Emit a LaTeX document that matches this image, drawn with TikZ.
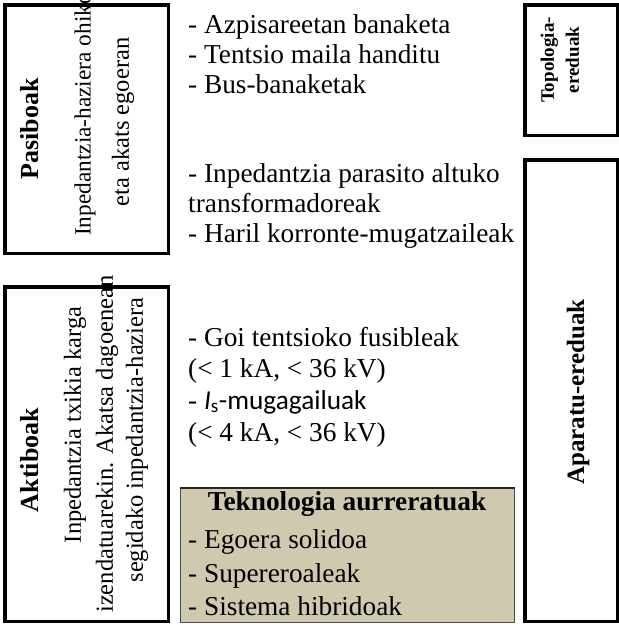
\documentclass[tikz,border=0pt]{standalone}
\usepackage{fontspec}
\setmainfont{Liberation Serif}
\newfontfamily\carlito{Carlito}
\definecolor{tanfill}{HTML}{CEC9AF}
\begin{document}
\begin{tikzpicture}[x=1pt,y=-1pt,
  box/.style={draw=black, line width=3.5pt, inner sep=0pt, outer sep=0pt},
  txt/.style={anchor=base west, inner sep=0pt, font=\fontsize{27.3}{30}\selectfont},
  vhead/.style={rotate=90, inner sep=0pt, font=\bfseries\fontsize{26}{30}\selectfont},
  vtxt/.style={rotate=90, inner sep=0pt, font=\fontsize{24.5}{30}\selectfont},
]
\useasboundingbox (0,0) rectangle (619,625);
\fill[white] (0,0) rectangle (619,625);
% boxes
\node[box, minimum width=163.5, minimum height=248.5] (pas) at (86.5,129) {};
\node[box, minimum width=163.5, minimum height=334.5] (akt) at (86.5,454) {};
\node[box, minimum width=92.5, minimum height=130.5] (topo) at (571,70) {};
\node[box, minimum width=92.5, minimum height=461.5] (apa) at (571,390.5) {};
\node[draw=black!70, fill=tanfill, line width=1.2pt, inner sep=0pt,
      minimum width=333.8, minimum height=133.8] (tek) at (347.5,555.5) {};
\draw[line width=2.5pt, black!85] (tek.north west) -- (tek.north east);
% left box texts
\node[vhead] (pash) at (30,129) {Pasiboak};
\node[vtxt, anchor=west, font=\fontsize{23.3}{30}\selectfont] (pas1) at (85,236) {Inpedantzia-haziera ohiko};
\node[vtxt] (pas2) at (123,122) {eta akats egoeran};
\node[vhead] (akth) at (30,460) {Aktiboak};
\node[vtxt] (akt1) at (75,425) {Inpedantzia txikia karga};
\node[vtxt, anchor=west] (akt2) at (107,613) {izendatuarekin. Akatsa dagoenean};
\node[vtxt] (akt3) at (137,440) {segidako inpedantzia-haziera};
% right box texts
\node[rotate=90, inner sep=0pt, align=center, font=\bfseries\fontsize{19}{25}\selectfont] (topoh) at (560,60) {Topologia-\\ereduak};
\node[rotate=90, inner sep=0pt, font=\bfseries\fontsize{25}{30}\selectfont] (apah) at (578,392) {Aparatu-ereduak};
% middle texts
\node[txt] (l1) at (188,33) {- Azpisareetan banaketa};
\node[txt] (l2) at (188,63) {- Tentsio maila handitu};
\node[txt] (l3) at (188,93) {- Bus-banaketak};
\node[txt] (l4) at (188,182) {- Inpedantzia parasito altuko};
\node[txt] (l5) at (188,212) {transformadoreak};
\node[txt] (l6) at (188,242) {- Haril korronte-mugatzaileak};
\node[txt] (l7) at (188,346) {- Goi tentsioko fusibleak};
\node[txt] (l8) at (188,377) {(< 1 kA, < 36 kV)};
\node[txt] (l9) at (188,409) {- {\carlito\textit{I}\textsubscript{s}-mugagailuak}};
\node[txt] (l10) at (188,441) {(< 4 kA, < 36 kV)};
% tan box texts
\node[anchor=base, inner sep=0pt, font=\bfseries\fontsize{27.3}{30}\selectfont] (tekh) at (347,510) {Teknologia aurreratuak};
\node[txt] (t1) at (188,548) {- Egoera solidoa};
\node[txt] (t2) at (188,582) {- Supereroaleak};
\node[txt] (t3) at (188,615) {- Sistema hibridoak};
\end{tikzpicture}
\end{document}
